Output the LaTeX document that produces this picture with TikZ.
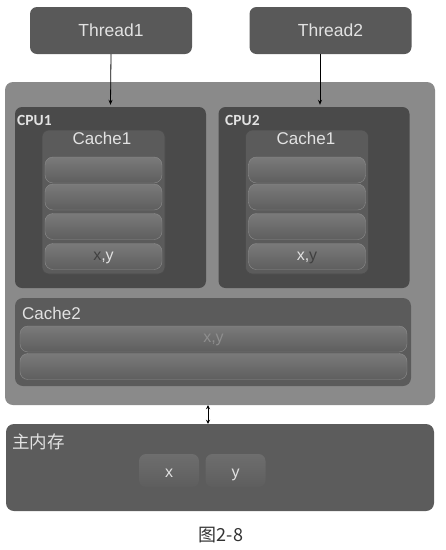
\documentclass[tikz,border=0pt]{standalone}
\usepackage{fontspec}
\setmainfont{Liberation Sans}
\newfontfamily\cjk{Noto Sans CJK SC}
\newfontfamily\carlitofont{Carlito}
\usetikzlibrary{arrows.meta}
\definecolor{outerc}{HTML}{8A8A8A}
\definecolor{cpuc}{HTML}{4A4A4A}
\definecolor{cachec}{HTML}{5B5B5B}
\definecolor{threadc}{HTML}{595959}
\definecolor{memc}{HTML}{5C5C5C}
\definecolor{txtc}{HTML}{E2E2E2}
\definecolor{dimtxt}{HTML}{404040}
\definecolor{fainttxt}{HTML}{8E8E8E}
\definecolor{rowtop}{HTML}{7A7A7A}
\definecolor{rowbot}{HTML}{5E5E5E}
\tikzset{
  threadbox/.style={rectangle, rounded corners=7pt, fill=threadc, text=txtc, font=\fontsize{17.5}{20}\selectfont, minimum width=162pt, minimum height=47pt},
  outerbox/.style={rectangle, rounded corners=8pt, fill=outerc, minimum width=430pt, minimum height=323pt},
  cpubox/.style={rectangle, rounded corners=7pt, fill=cpuc, minimum width=191pt, minimum height=181pt},
  cachebox/.style={rectangle, rounded corners=7pt, fill=cachec, draw=black!70, line width=0.6pt, minimum width=123pt, minimum height=144pt},
  cache2box/.style={rectangle, rounded corners=8pt, fill=cachec, minimum width=396pt, minimum height=88pt},
  rowbox/.style={rectangle, rounded corners=8pt, top color=rowtop, bottom color=rowbot, draw=black!45, line width=0.4pt, minimum height=26pt, text height=1.6ex, text depth=0.2ex, font=\fontsize{16}{18}\selectfont},
  membox/.style={rectangle, rounded corners=8pt, fill=memc, minimum width=428pt, minimum height=87pt},
  valbox/.style={rectangle, rounded corners=7pt, top color=rowtop!90!black, bottom color=rowbot, minimum width=60pt, minimum height=33pt, text=txtc, text height=13pt, text depth=0pt, font=\fontsize{16}{18}\selectfont},
  lbl/.style={text=txtc, inner sep=0pt},
  arr/.style={-{Stealth[length=5pt,width=4pt]}, line width=0.8pt, black},
}
\begin{document}
\begin{tikzpicture}[x=1pt,y=-1pt]
\useasboundingbox (0,0) rectangle (446,550);
% threads
\node[threadbox] (t1) at (111,30.5) {Thread1};
\node[threadbox] (t2) at (330.5,30.5) {Thread2};
% outer
\node[outerbox] (outer) at (220,243.5) {};
% CPUs
\node[cpubox] (cpu1) at (110.5,197.5) {};
\node[cpubox] (cpu2) at (314,197.5) {};
\node[lbl, anchor=west, font=\carlitofont\bfseries\fontsize{15.5}{17}\selectfont] (c1lab) at (17,120) {CPU1};
\node[lbl, anchor=west, font=\carlitofont\bfseries\fontsize{15.5}{17}\selectfont] (c2lab) at (225,120) {CPU2};
% cache1 left
\node[cachebox] (k1) at (103.5,202) {};
\node[lbl, font=\fontsize{17}{19}\selectfont] (k1lab) at (102,138) {Cache1};
\node[rowbox, minimum width=117pt] (r11) at (103.5,170) {};
\node[rowbox, minimum width=117pt] (r12) at (103.5,197) {};
\node[rowbox, minimum width=117pt] (r13) at (103.5,226.5) {};
\node[rowbox, minimum width=117pt] (r14) at (103.5,256.5) {\textcolor{dimtxt}{x}\textcolor{txtc}{,y}};
% cache1 right
\node[cachebox] (k2) at (307,202) {};
\node[lbl, font=\fontsize{17}{19}\selectfont] (k2lab) at (306,138) {Cache1};
\node[rowbox, minimum width=117pt] (r21) at (307,170) {};
\node[rowbox, minimum width=117pt] (r22) at (307,197) {};
\node[rowbox, minimum width=117pt] (r23) at (307,226.5) {};
\node[rowbox, minimum width=117pt] (r24) at (307,256.5) {\textcolor{txtc}{x,}\textcolor{dimtxt}{y}};
% cache2
\node[cache2box] (k3) at (213,342) {};
\node[lbl, anchor=west, font=\fontsize{17}{19}\selectfont] (k3lab) at (22,313) {Cache2};
\node[rowbox, minimum width=387pt] (r31) at (213.5,339) {\textcolor{fainttxt}{x,y}};
\node[rowbox, minimum width=387pt] (r32) at (213.5,366.5) {};
% memory
\node[membox] (mem) at (220,467.5) {};
\node[lbl, anchor=west, font=\cjk\fontsize{17.5}{20}\selectfont] (memlab) at (12,442) {主内存};
\node[valbox] (vx) at (169,470.5) {x};
\node[valbox] (vy) at (235.5,470.5) {y};
% caption
\node[text=black!80, font=\cjk\fontsize{18}{20}\selectfont] (cap) at (221,535) {图2-8};
% arrows
\draw[arr] (t1.south) -- ([yshift=2pt]cpu1.north);
\draw[arr] ([xshift=-10.5pt]t2.south) -- ([xshift=6pt,yshift=2pt]cpu2.north);
\draw[{Stealth[length=4pt,width=4pt]}-{Stealth[length=4pt,width=4pt]}, line width=0.8pt] ([xshift=-12pt]outer.south) -- ([xshift=-12pt]mem.north);
\end{tikzpicture}
\end{document}
